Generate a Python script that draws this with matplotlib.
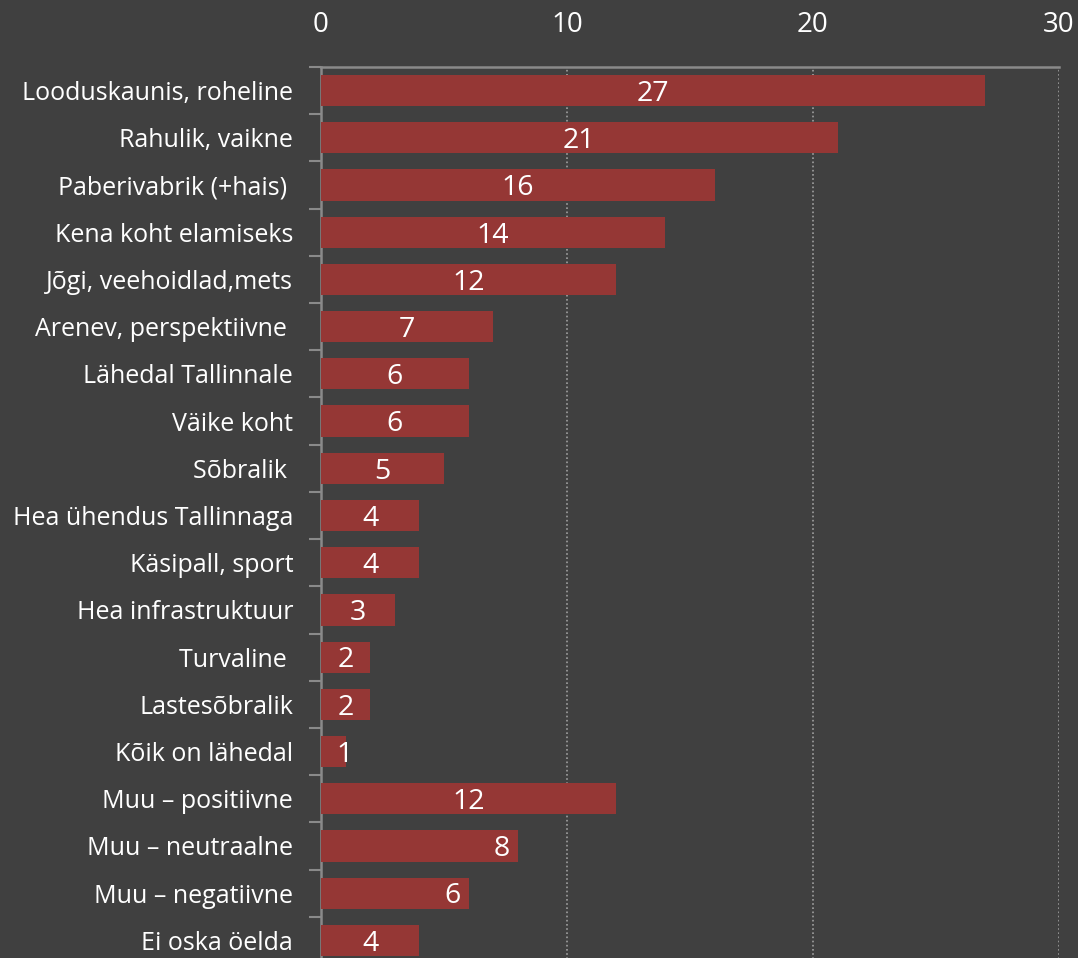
import numpy as np
import matplotlib.pyplot as plt

kategooriad = [
    "Looduskaunis, roheline", "Rahulik, vaikne", "Paberivabrik (+hais) ",
    "Kena koht elamiseks", "Jõgi, veehoidlad,mets", "Arenev, perspektiivne ",
    "Lähedal Tallinnale", "Väike koht", "Sõbralik ", "Hea ühendus Tallinnaga",
    "Käsipall, sport", "Hea infrastruktuur", "Turvaline ", "Lastesõbralik",
    "Kõik on lähedal", "Muu \u2013 positiivne", "Muu \u2013 neutraalne",
    "Muu \u2013 negatiivne", "Ei oska öelda",
]
vaartused = [27, 21, 16, 14, 12, 7, 6, 6, 5, 4, 4, 3, 2, 2, 1, 12, 8, 6, 4]
x_ticks = [0, 10, 20, 30]

# mõned sildid ei ole originaalis tulba keskel
sildi_koht = {14: 0.97, 16: 7.35, 17: 5.35}

taust = "#404040"
punane = "#953735"
hall = "#8a8a8a"

plt.rcParams['font.family'] = ['Open Sans', 'DejaVu Sans']

fig = plt.figure(figsize=(10.78, 9.58), dpi=100, facecolor=taust)
ax = fig.add_axes([321/1078, 1 - 964/958, (1059 - 321)/1078, (964 - 67)/958])
ax.set_facecolor(taust)

n = len(kategooriad)
y = np.arange(n)
ax.barh(y, vaartused, height=0.66, color=punane, zorder=3)

for i, (yi, v) in enumerate(zip(y, vaartused)):
    xpos = sildi_koht.get(i, v / 2)
    ax.text(xpos, yi + 0.07, str(v), ha='center', va='center',
            color='white', fontsize=20.5, zorder=4)

ax.set_xlim(0, 30)
ax.set_ylim(n - 0.5, -0.5)

ax.xaxis.tick_top()
ax.set_xticks(x_ticks)
ax.set_xticklabels([str(t) for t in x_ticks])
ax.tick_params(axis='x', length=0, pad=20, labelsize=20, colors='white')

# kategooriate piirid = tick märgid, sildid keskel
ax.set_yticks(np.arange(n + 1) - 0.5)
ax.set_yticklabels([])
ax.set_yticks(y, minor=True)
ax.set_yticklabels(kategooriad, minor=True)
ax.tick_params(axis='y', which='major', length=9, width=1.5, color=hall, direction='out')
ax.tick_params(axis='y', which='minor', length=0, pad=20, labelsize=18, labelcolor='white')

ax.grid(axis='x', color='#a0a0a0', linestyle=(0, (1, 1.5)), linewidth=1.2, zorder=1)
ax.grid(axis='y', visible=False)

for s in ['right', 'bottom']:
    ax.spines[s].set_visible(False)
for s in ['left', 'top']:
    ax.spines[s].set_color(hall)
    ax.spines[s].set_linewidth(1.8)

fig.savefig("out.png", dpi=100, facecolor=taust)
